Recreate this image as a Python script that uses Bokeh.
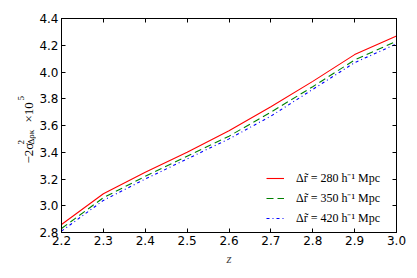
import numpy as np
from bokeh.plotting import figure
from bokeh.layouts import row
from bokeh.models import (LinearAxis, Range1d, Legend, LegendItem, Label, FixedTicker,
                          CustomJSTickFormatter, PrintfTickFormatter)
from bokeh.embed import file_html
from bokeh.resources import INLINE

z = [2.2, 2.3, 2.4, 2.5, 2.6, 2.7, 2.8, 2.9, 3.0]
s280 = [2.86, 3.09, 3.25, 3.40, 3.56, 3.74, 3.93, 4.13, 4.27]
s350 = [2.83, 3.06, 3.22, 3.37, 3.52, 3.70, 3.89, 4.09, 4.23]
s420 = [2.81, 3.04, 3.20, 3.35, 3.50, 3.67, 3.87, 4.07, 4.21]
labels = ["Δr̃ = 280 h⁻¹ Mpc", "Δr̃ = 350 h⁻¹ Mpc", "Δr̃ = 420 h⁻¹ Mpc"]
xticks = [2.2, 2.3, 2.4, 2.5, 2.6, 2.7, 2.8, 2.9, 3.0]
yticks = [2.8, 3.0, 3.2, 3.4, 3.6, 3.8, 4.0, 4.2, 4.4]

H = 270
TOP, BOT = 18, 38
FH = H - TOP - BOT  # frame height in px
LW = 36

# narrow strip holding the y-axis label (units = pixels from frame bottom-left)
lab = figure(width=LW, height=H, output_backend="svg", toolbar_location=None,
             x_range=Range1d(0, LW), y_range=Range1d(0, FH),
             min_border_left=0, min_border_right=0, min_border_top=TOP, min_border_bottom=BOT,
             x_axis_location=None, y_axis_location=None)
lab.xgrid.visible = False
lab.ygrid.visible = False
lab.outline_line_color = None
common = dict(angle=np.pi/2, text_font="Liberation Serif", text_color="black",
              text_align="left", text_baseline="alphabetic")
lab.add_layout(Label(x=28, y=69, text="−2σ", text_font_size="13px", **common))
lab.add_layout(Label(x=20, y=88, text="2", text_font_size="9px", **common))
lab.add_layout(Label(x=30, y=88, text="Δρκ", text_font_size="9px", **common))
lab.add_layout(Label(x=28, y=110, text="×10", text_font_size="13px", **common))
lab.add_layout(Label(x=20, y=132, text="5", text_font_size="9px", **common))

p = figure(width=409 - LW, height=H, output_backend="svg", toolbar_location=None,
           x_range=Range1d(2.2, 3.0), y_range=Range1d(2.8, 4.4),
           min_border_left=60 - LW, min_border_right=13, min_border_top=TOP, min_border_bottom=BOT)
p.xgrid.visible = False
p.ygrid.visible = False
p.outline_line_color = "black"
p.background_fill_color = "white"
p.border_fill_color = "white"

def style(ax, ticks, show_labels=True):
    ax.ticker = FixedTicker(ticks=ticks)
    ax.major_tick_in = 4
    ax.major_tick_out = 0
    ax.minor_tick_in = 0
    ax.minor_tick_out = 0
    ax.axis_line_color = "black"
    ax.major_tick_line_color = "black"
    ax.major_label_text_font = "DejaVu Sans"
    ax.major_label_text_font_size = "12px"
    ax.major_label_text_color = "black"
    if show_labels:
        ax.formatter = PrintfTickFormatter(format="%.1f")
        ax.major_label_standoff = 3
    else:
        ax.formatter = CustomJSTickFormatter(code="return ''")
        ax.major_label_standoff = 0

style(p.xaxis[0], xticks)
style(p.yaxis[0], yticks)
p.xaxis[0].axis_label = "z"
p.xaxis[0].axis_label_text_font = "Liberation Serif"
p.xaxis[0].axis_label_text_font_style = "italic"
p.xaxis[0].axis_label_text_font_size = "13px"
p.xaxis[0].axis_label_standoff = 3

top = LinearAxis()
style(top, xticks, False)
p.add_layout(top, "above")
right = LinearAxis()
style(right, yticks, False)
p.add_layout(right, "right")

r1 = p.line(z, s280, line_color="#ff0000", line_width=1.1)
r2 = p.line(z, s350, line_color="#008000", line_width=1.1, line_dash="7 4")
r3 = p.line(z, s420, line_color="#0000ff", line_width=1.1, line_dash="3 3 1 3")

leg = Legend(items=[LegendItem(label=labels[0], renderers=[r1]),
                    LegendItem(label=labels[1], renderers=[r2]),
                    LegendItem(label=labels[2], renderers=[r3])],
             location=(205, 6), border_line_color=None,
             background_fill_alpha=0, label_text_font="Liberation Serif",
             label_text_font_size="12px", label_text_color="black",
             glyph_width=18, glyph_height=12,
             label_standoff=12, spacing=3, padding=5, margin=0,
             label_height=12)
p.add_layout(leg)

open("out.html", "w").write(file_html(row(lab, p), INLINE))
